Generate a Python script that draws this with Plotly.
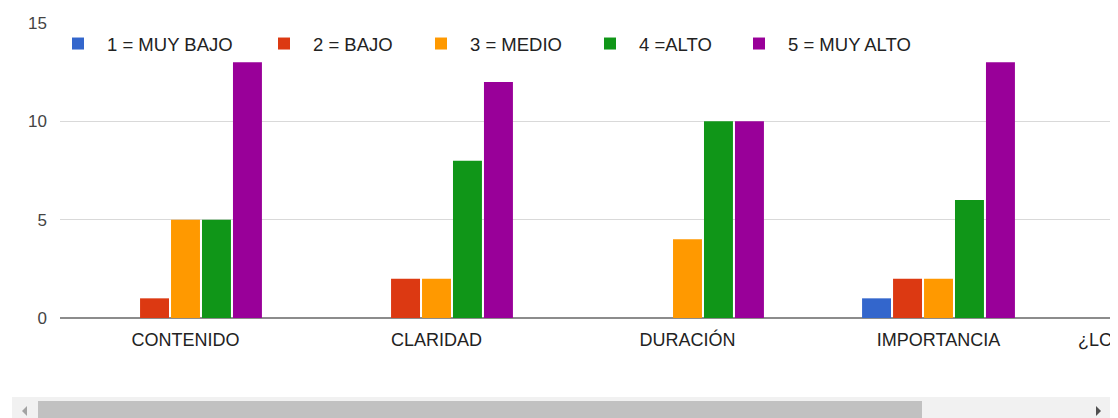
import plotly.graph_objects as go

categories = ["CONTENIDO", "CLARIDAD", "DURACIÓN", "IMPORTANCIA"]
cut_label = "¿LC"
series_names = ["1 = MUY BAJO", "2 = BAJO", "3 = MEDIO", "4 =ALTO", "5 = MUY ALTO"]
muy_bajo = [0, 0, 0, 1]
bajo = [1, 2, 0, 2]
medio = [5, 2, 4, 2]
alto = [5, 8, 10, 6]
muy_alto = [13, 12, 10, 13]
colors = ["#3366cc", "#dc3912", "#ff9900", "#109618", "#990099"]
y_ticks = [0, 5, 10, 15]

FONT = "Arial, Liberation Sans, sans-serif"
OFF = 8  # default page body margin
W, H = 1118 - OFF, 418 - OFF
L, R, T, B = 52, 6, 15, 100
pw, ph = W - L - R, H - T - B


def px_x(x):  # window pixel -> paper x
    return (x - OFF - L) / pw


def px_y(y):  # window pixel -> paper y
    return (H - B - (y - OFF)) / ph


fig = go.Figure()
legend_text_x = [107, 313, 470, 639, 788]
ITEMW = 48
legends = {}
for i, (name, vals, col) in enumerate(zip(series_names, [muy_bajo, bajo, medio, alto, muy_alto], colors)):
    lname = "legend" if i == 0 else f"legend{i + 1}"
    fig.add_trace(go.Bar(
        name=name, x=list(range(len(categories))), y=vals,
        marker=dict(color=col, line=dict(width=0)), legend=lname, showlegend=True,
    ))
    legends[lname] = dict(
        orientation="h", x=px_x(legend_text_x[i] - ITEMW - 10), y=px_y(44),
        xanchor="left", yanchor="middle", itemwidth=ITEMW,
        font=dict(family=FONT, size=18.5, color="#222222"),
        bgcolor="rgba(0,0,0,0)", borderwidth=0,
    )

shapes = [
    # scrollbar track
    dict(type="rect", xref="paper", yref="paper", x0=px_x(12), x1=px_x(1112), y0=px_y(397), y1=px_y(418),
         fillcolor="#f1f1f1", line=dict(width=0), layer="above"),
    # scrollbar thumb
    dict(type="rect", xref="paper", yref="paper", x0=px_x(38), x1=px_x(922), y0=px_y(401), y1=px_y(418),
         fillcolor="#c1c1c1", line=dict(width=0), layer="above"),
]


def tri(points, color):
    path = "M " + " L ".join(f"{px_x(a)},{px_y(b)}" for a, b in points) + " Z"
    return dict(type="path", xref="paper", yref="paper", path=path, fillcolor=color,
                line=dict(width=0), layer="above")


shapes.append(tri([(22, 411), (27, 406), (27, 416)], "#a3a3a3"))
shapes.append(tri([(1101, 411), (1096, 406), (1096, 416)], "#505050"))

annotations = [
    dict(text=cut_label, xref="paper", yref="paper", x=px_x(1076), y=px_y(340), xanchor="left", yanchor="middle",
         showarrow=False, font=dict(family=FONT, size=18, color="#222222")),
]

fig.update_layout(
    width=W, height=H, showlegend=True,
    margin=dict(l=L, r=R, t=T, b=B, autoexpand=False),
    paper_bgcolor="white", plot_bgcolor="white",
    barmode="group", bargap=0.383, bargroupgap=0.065,
    font=dict(family=FONT, size=18, color="#222222"),
    xaxis=dict(range=[-0.5, -0.5 + pw / 251], tickmode="array",
               tickvals=list(range(len(categories))), ticktext=categories,
               showgrid=False, zeroline=False, showline=False, ticks="",
               tickfont=dict(family=FONT, size=18, color="#222222"), ticklabelstandoff=9),
    yaxis=dict(range=[0, 15], tickvals=y_ticks, showgrid=True, gridcolor="#d9d9d9", gridwidth=1,
               zeroline=True, zerolinecolor="#8c8c8c", zerolinewidth=2, showline=False, ticks="",
               tickfont=dict(family=FONT, size=17, color="#444444"), ticklabelstandoff=12),
    shapes=shapes, annotations=annotations,
    **legends,
)

fig.write_html("out.html")
